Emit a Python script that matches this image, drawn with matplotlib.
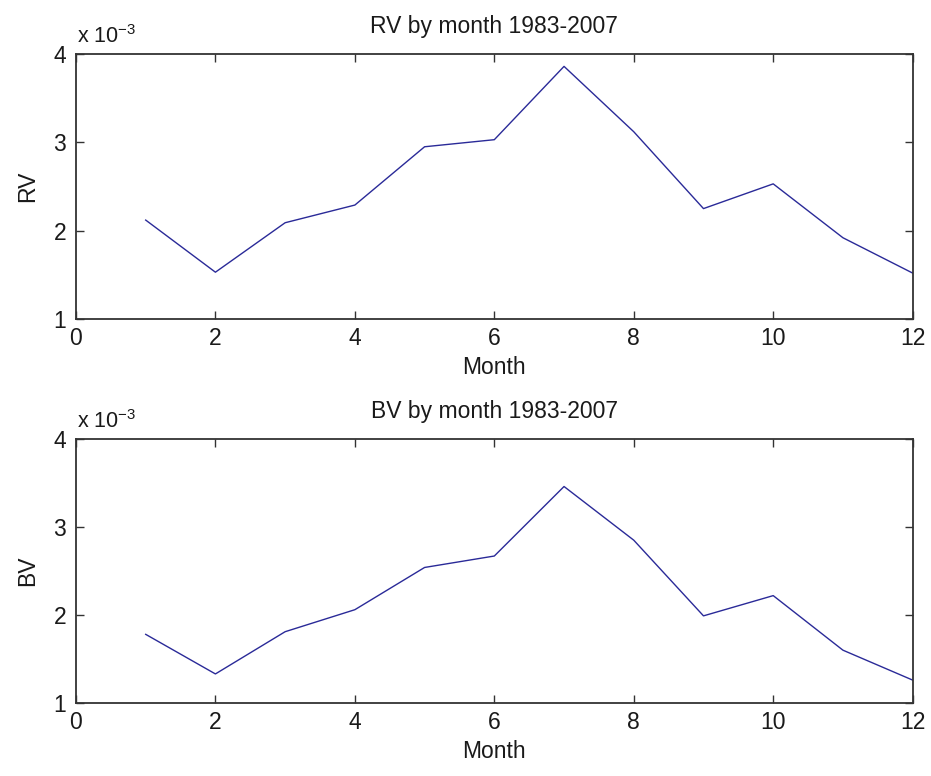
import matplotlib
matplotlib.use("Agg")
import matplotlib.pyplot as plt
from matplotlib.ticker import FuncFormatter
import numpy as np

plt.rcParams['font.family'] = ['Liberation Sans', 'DejaVu Sans']
plt.rcParams['mathtext.fontset'] = 'custom'
plt.rcParams['mathtext.rm'] = 'Liberation Sans'
plt.rcParams['mathtext.it'] = 'Liberation Sans:italic'

# Monthly values (1983-2007)
months = np.arange(1, 13)
rv = np.array([2.12, 1.53, 2.09, 2.29, 2.95, 3.03, 3.86, 3.12, 2.25, 2.53, 1.92, 1.52]) * 1e-3
bv = np.array([1.78, 1.33, 1.81, 2.06, 2.54, 2.67, 3.46, 2.85, 1.99, 2.22, 1.60, 1.26]) * 1e-3

titles = ["RV by month 1983-2007", "BV by month 1983-2007"]
ylabels = ["RV", "BV"]
xticks = [0, 2, 4, 6, 8, 10, 12]
yticks = np.array([1, 2, 3, 4]) * 1e-3

line_color = '#2a2a98'
text_color = '#1a1a1a'
fs = 16.5

fig = plt.figure(figsize=(9.31, 7.76), dpi=100)
ax_top = fig.add_axes([0.0816, 0.5889, 0.8987, 0.3415])
ax_bot = fig.add_axes([0.0816, 0.0941, 0.8987, 0.3402])

for ax, data, title, ylab in zip([ax_top, ax_bot], [rv, bv], titles, ylabels):
    ax.plot(months, data, color=line_color, lw=1.0)
    ax.set_xlim(0, 12)
    ax.set_ylim(1e-3, 4e-3)
    ax.set_xticks(xticks)
    ax.set_yticks(yticks)
    ax.yaxis.set_major_formatter(FuncFormatter(lambda v, _: f"{v * 1e3:g}"))
    ax.tick_params(direction='in', length=5.5, width=1.0, top=True, right=True,
                   labelsize=fs, colors='#333333', labelcolor=text_color)
    ax.tick_params(axis='x', pad=6)
    ax.tick_params(axis='y', pad=7)
    for sp in ax.spines.values():
        sp.set_linewidth(1.3)
        sp.set_color('#333333')
    ax.set_title(title, fontsize=fs, color=text_color, pad=15)
    ax.set_xlabel("Month", fontsize=fs, color=text_color, labelpad=4)
    ax.set_ylabel(ylab, fontsize=fs, color=text_color, labelpad=10)
    ax.annotate("x 10$^{-3}$", xy=(0, 1), xycoords='axes fraction',
                xytext=(1, 8), textcoords='offset points',
                fontsize=fs - 1, color=text_color, va='baseline', ha='left')

fig.savefig("out.png", dpi=100, facecolor='white')
